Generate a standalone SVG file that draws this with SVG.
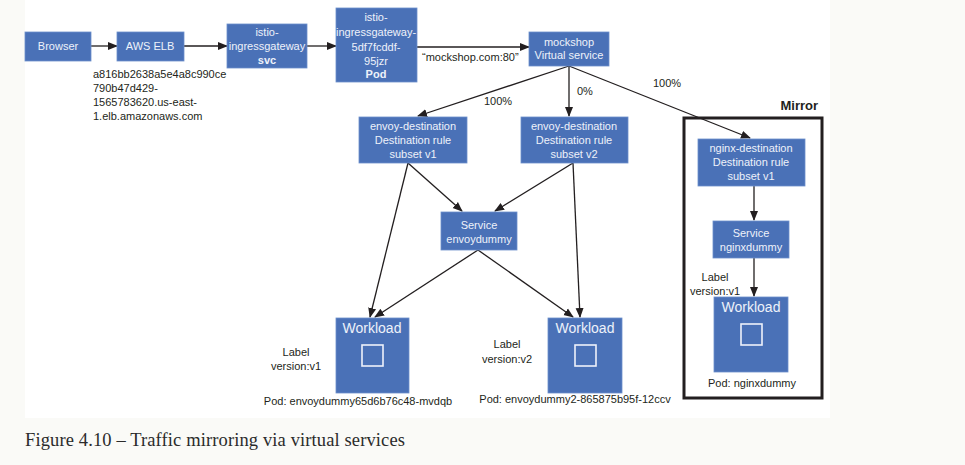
<svg xmlns="http://www.w3.org/2000/svg" width="965" height="465" viewBox="0 0 965 465">
<defs>
<marker id="ah" markerUnits="userSpaceOnUse" markerWidth="10" markerHeight="10" viewBox="0 0 10 10" refX="9" refY="5" orient="auto">
<path d="M0,1 L10,5 L0,9 Z" fill="#231f20"/>
</marker>
<style>
.bx{fill:#4a71b7;stroke:#6c8fcb;stroke-width:0.8}
.bt{font-family:"Liberation Sans",Arial,sans-serif;font-size:11px;fill:#eef2fa;text-anchor:middle}
.bb{font-weight:bold}
.lt{font-family:"Liberation Sans",Arial,sans-serif;font-size:11px;fill:#231f20}
.mid{text-anchor:middle}
.wl{font-family:"Liberation Sans",Arial,sans-serif;font-size:14px;fill:#eef2fa;text-anchor:middle}
.sq{fill:none;stroke:#eef2fa;stroke-width:1.6}
.cn{stroke:#231f20;stroke-width:1.3;fill:none;marker-end:url(#ah)}
</style>
</defs>
<rect x="0" y="0" width="965" height="465" fill="#fafaf7"/>
<rect x="25" y="0" width="805" height="418" fill="#ffffff"/>

<g id="connectors">
<line class="cn" x1="91" y1="46" x2="117" y2="46"/>
<line class="cn" x1="184" y1="46" x2="227" y2="46"/>
<line class="cn" x1="307" y1="46" x2="336" y2="46"/>
<line class="cn" x1="417" y1="47" x2="529" y2="47"/>
<line class="cn" x1="569" y1="66" x2="418" y2="116"/>
<line class="cn" x1="569" y1="66" x2="569" y2="116"/>
<line class="cn" x1="569" y1="66" x2="750" y2="138"/>
<line class="cn" x1="408" y1="163" x2="462" y2="211"/>
<line class="cn" x1="573" y1="163" x2="495" y2="211"/>
<line class="cn" x1="408" y1="163" x2="370" y2="317"/>
<line class="cn" x1="478" y1="250" x2="375" y2="317"/>
<line class="cn" x1="478" y1="250" x2="573" y2="317"/>
<line class="cn" x1="573" y1="163" x2="580" y2="317"/>
<line class="cn" x1="754" y1="186" x2="754" y2="220"/>
<line class="cn" x1="754" y1="258" x2="754" y2="296"/>
</g>

<g id="edge-labels">
<text class="lt" x="422" y="61">“mockshop.com:80”</text>
<text class="lt" x="484" y="105">100%</text>
<text class="lt" x="577" y="95">0%</text>
<text class="lt" x="653" y="87">100%</text>
</g>

<g id="browser">
<rect class="bx" x="25" y="32" width="66" height="29"/>
<text class="bt" x="58" y="50">Browser</text>
</g>

<g id="aws-elb">
<rect class="bx" x="117" y="32" width="67" height="29"/>
<text class="bt" x="150" y="50">AWS ELB</text>
<text class="lt" x="93" y="78">a816bb2638a5e4a8c990ce</text>
<text class="lt" x="93" y="92">790b47d429-</text>
<text class="lt" x="93" y="106">1565783620.us-east-</text>
<text class="lt" x="93" y="120">1.elb.amazonaws.com</text>
</g>

<g id="ingress-svc">
<rect class="bx" x="227" y="24" width="80" height="44"/>
<text class="bt" x="267" y="36">istio-</text>
<text class="bt" x="267" y="50">ingressgateway</text>
<text class="bt bb" x="267" y="64">svc</text>
</g>

<g id="ingress-pod">
<rect class="bx" x="336" y="8" width="81" height="74"/>
<text class="bt" x="376" y="21">istio-</text>
<text class="bt" x="376" y="36">ingressgateway-</text>
<text class="bt" x="376" y="51">5df7fcddf-</text>
<text class="bt" x="376" y="65">95jzr</text>
<text class="bt bb" x="376" y="78">Pod</text>
</g>

<g id="mockshop">
<rect class="bx" x="529" y="32" width="80" height="34"/>
<text class="bt" x="569" y="46">mockshop</text>
<text class="bt" x="569" y="59">Virtual service</text>
</g>

<g id="envoy-dest-v1">
<rect class="bx" x="359" y="117" width="108" height="46"/>
<text class="bt" x="413" y="130">envoy-destination</text>
<text class="bt" x="413" y="144">Destination rule</text>
<text class="bt" x="413" y="158">subset v1</text>
</g>

<g id="envoy-dest-v2">
<rect class="bx" x="521" y="117" width="107" height="46"/>
<text class="bt" x="574" y="130">envoy-destination</text>
<text class="bt" x="574" y="144">Destination rule</text>
<text class="bt" x="574" y="158">subset v2</text>
</g>

<g id="service-envoydummy">
<rect class="bx" x="441" y="212" width="76" height="38"/>
<text class="bt" x="479" y="229">Service</text>
<text class="bt" x="479" y="243">envoydummy</text>
</g>

<g id="workload-v1">
<rect class="bx" x="336" y="318" width="73" height="75"/>
<text class="wl" x="372" y="333">Workload</text>
<rect class="sq" x="362" y="345" width="21" height="21"/>
<text class="lt mid" x="296" y="356">Label</text>
<text class="lt mid" x="296" y="370">version:v1</text>
<text class="lt mid" x="358" y="405">Pod: envoydummy65d6b76c48-mvdqb</text>
</g>

<g id="workload-v2">
<rect class="bx" x="548" y="318" width="74" height="75"/>
<text class="wl" x="585" y="333">Workload</text>
<rect class="sq" x="575" y="345" width="21" height="21"/>
<text class="lt mid" x="507" y="348">Label</text>
<text class="lt mid" x="507" y="363">version:v2</text>
<text class="lt mid" x="575" y="403">Pod: envoydummy2-865875b95f-12ccv</text>
</g>

<g id="mirror">
<text x="818" y="110" text-anchor="end" font-family="Liberation Sans,Arial,sans-serif" font-size="13" font-weight="bold" fill="#231f20">Mirror</text>
<rect x="684" y="118" width="138" height="280" fill="none" stroke="#231f20" stroke-width="3"/>
</g>

<g id="nginx-dest">
<rect class="bx" x="698" y="139" width="107" height="47"/>
<text class="bt" x="751" y="152">nginx-destination</text>
<text class="bt" x="751" y="166">Destination rule</text>
<text class="bt" x="751" y="180">subset v1</text>
</g>

<g id="service-nginxdummy">
<rect class="bx" x="713" y="221" width="76" height="37"/>
<text class="bt" x="751" y="237">Service</text>
<text class="bt" x="751" y="251">nginxdummy</text>
</g>

<g id="workload-nginx">
<rect class="bx" x="714" y="297" width="74" height="75"/>
<text class="wl" x="751" y="312">Workload</text>
<rect class="sq" x="741" y="324" width="21" height="21"/>
<text class="lt mid" x="715" y="281">Label</text>
<text class="lt mid" x="715" y="295">version:v1</text>
<text class="lt mid" x="752" y="387">Pod: nginxdummy</text>
</g>

<text x="25" y="446" font-family="Liberation Serif,Times New Roman,serif" font-size="18.5" textLength="380" lengthAdjust="spacing" fill="#2b2b2b">Figure 4.10 – Traffic mirroring via virtual services</text>
</svg>
